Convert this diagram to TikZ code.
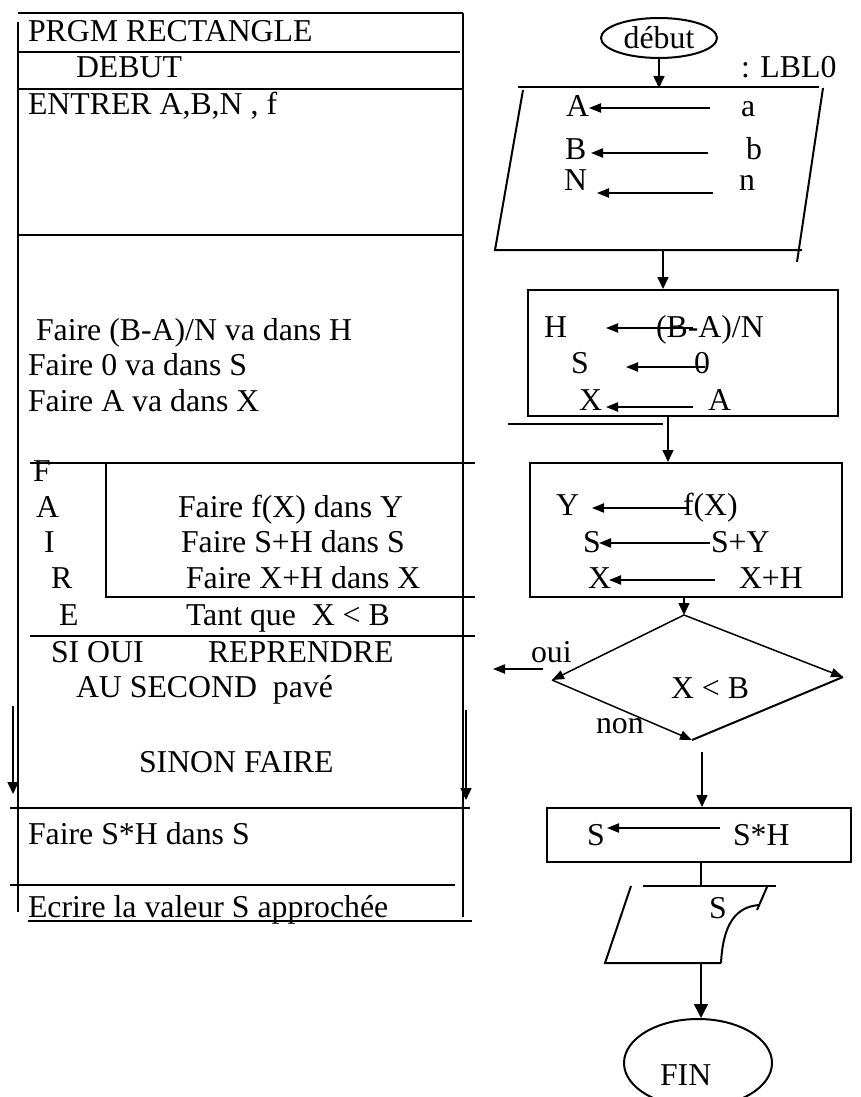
\documentclass[tikz,border=0pt]{standalone}
\usepackage{fontspec}
\setmainfont{Liberation Serif}
\usetikzlibrary{arrows.meta,shapes.geometric}

\tikzset{
  txt/.style={anchor=base west, inner sep=0pt},
  affect/.style={-{Triangle[length=6pt,width=4.6pt]}, line width=0.75pt},
  flow/.style={-{Triangle[length=6pt,width=5.5pt]}, line width=0.8pt},
  term/.style={draw, ellipse, inner sep=0pt, line width=1pt},
  instr/.style={draw, inner sep=0pt, line width=1pt},
}

\begin{document}
\begin{tikzpicture}[x=0.5pt, y=-0.5pt, line width=1pt, font=\fontsize{15.9}{18}\selectfont]
  \useasboundingbox (0,0) rectangle (861,1097);

  % structured program (left)
  \draw (18,13) -- (463,13);
  \draw (18,22) -- (18,912);
  \draw (463,13) -- (463,917);
  \draw (18,52) -- (460,52);
  \draw (18,89) -- (463,89);
  \draw (18,235) -- (463,235);
  \draw (30,463) -- (475,463);
  \draw (106,463) -- (106,597) -- (475,597);
  \draw (30,636) -- (475,636);
  \draw (10,808) -- (470,808);
  \draw (10,885) -- (455,885);
  \draw[line width=0.75pt] (28,921) -- (472,921);
  \draw[flow] (13,706) -- (13,794);
  \draw[flow] (466,710) -- (466,800);

  \node[txt] (prgm) at (27,42) {PRGM RECTANGLE};
  \node[txt] (debutL) at (75,78) {DEBUT};
  \node[txt] (entrer) at (27,115) {ENTRER A,B,N , f};
  \node[txt] (faireH) at (35,340) {Faire (B-A)/N va dans H};
  \node[txt] (faireS) at (27,375) {Faire 0 va dans S};
  \node[txt] (faireX) at (27,411) {Faire A va dans X};
  \node[txt] (lF) at (32,481) {F};
  \node[txt] (lA) at (35,517) {A};
  \node[txt] (lI) at (43,552) {I};
  \node[txt] (lR) at (50,588) {R};
  \node[txt] (lE) at (58,625) {E};
  \node[txt] (fY) at (177,517) {Faire f(X) dans Y};
  \node[txt] (fS) at (180,552) {Faire S+H dans S};
  \node[txt] (fX) at (185,588) {Faire X+H dans X};
  \node[txt] (tq) at (185,625) {Tant que\ \ X < B};
  \node[txt] (sioui) at (50,662) {SI OUI};
  \node[txt] (repr) at (207,662) {REPRENDRE};
  \node[txt] (second) at (75,697) {AU SECOND\ \ pavé};
  \node[txt] (sinon) at (138,772) {SINON FAIRE};
  \node[txt] (fSH) at (27,844) {Faire S*H dans S};
  \node[txt] (ecrire) at (27,917) {Ecrire la valeur S approchée};

  % flowchart (right)
  \node[term, minimum width=58pt, minimum height=20pt] (debut) at (659,38) {début};
  \node[txt] (lbl) at (740,78) {: LBL0};
  \coordinate (entree) at (659,88);
  \draw[flow] (debut) -- (entree);

  \draw (518,87) -- (819,87);
  \draw (523,90) -- (495,250) -- (802,250);
  \draw (823,88) -- (797,262);
  \node[txt] (pA) at (565,117) {A};
  \node[txt] (pa) at (740,117) {a};
  \node[txt] (pB) at (564,160) {B};
  \node[txt] (pb) at (745,160) {b};
  \node[txt] (pN) at (563,190) {N};
  \node[txt] (pn) at (738,190) {n};
  \draw[affect] (710,108) -- (589,108);
  \draw[affect] (708,153) -- (591,153);
  \draw[affect] (713,193) -- (597,193);

  \node[instr, minimum width=155pt, minimum height=63pt] (init) at (683,353) {};
  \coordinate (lecture) at (663,250);
  \draw[flow] (lecture) -- (lecture |- init.north);
  \node[txt] (iH) at (543,337) {H};
  \node[txt] (iHv) at (655,337) {(B-A)/N};
  \node[txt] (iS) at (570,373) {S};
  \node[txt] (iSv) at (693,373) {0};
  \node[txt] (iX) at (578,410) {X};
  \node[txt] (iXv) at (707,410) {A};
  \draw[affect] (693,328) -- (606,328);
  \draw[affect] (705,367) -- (626,367);
  \draw[affect] (693,407) -- (606,407);
  \draw (508,424) -- (663,424);

  \node[instr, minimum width=156pt, minimum height=67pt] (boucle) at (686,530) {};
  \draw[flow] (init.south -| 668,0) -- (boucle.north -| 668,0);
  \node[txt] (bY) at (555,515) {Y};
  \node[txt] (bYv) at (682,515) {f(X)};
  \node[txt] (bS) at (582,552) {S};
  \node[txt] (bSv) at (710,552) {S+Y};
  \node[txt] (bX) at (587,588) {X};
  \node[txt] (bXv) at (738,588) {X+H};
  \draw[affect] (687,508) -- (592,508);
  \draw[affect] (710,543) -- (599,543);
  \draw[affect] (715,580) -- (609,580);

  % test
  \coordinate (dtop) at (684,615);
  \coordinate (dright) at (843,677);
  \coordinate (dbottom) at (692,740);
  \coordinate (dleft) at (552,680);
  \draw[flow] (boucle.south -| dtop) -- (dtop);
  \draw[affect] (dtop) -- (dleft);
  \draw[affect] (dleft) -- (dbottom);
  \draw[affect] (dtop) -- (dright);
  \draw (dright) -- (dbottom);
  \node[txt] (test) at (670,698) {X < B};
  \node[txt] (oui) at (530,662) {oui};
  \node[txt] (non) at (595,733) {non};
  \coordinate (ouiA) at (543,669);
  \coordinate (ouiB) at (493,669);
  \draw[affect] (ouiA) -- (ouiB);

  \node[instr, minimum width=152pt, minimum height=27pt] (fin_calc) at (699,835) {};
  \coordinate (nonA) at (702,752);
  \draw[flow] (nonA) -- (nonA |- fin_calc.north);
  \node[txt] (cS) at (586,845) {S};
  \node[txt] (cSv) at (732,845) {S*H};
  \draw[affect] (720,828) -- (607,828);

  % output
  \coordinate (sortie) at (701,886);
  \draw (fin_calc.south -| sortie) -- (sortie);
  \draw (643,886) -- (776,886);
  \draw (631,886) -- (605,963) -- (721,963);
  \draw (721,963) .. controls (723,925) and (735,907) .. (759,905);
  \draw (757,910) -- (767,887);
  \node[txt] (oS) at (708,918) {S};

  \node[term, minimum width=74pt, minimum height=44pt] (fin) at (698,1063) {};
  \node[txt] (finlbl) at (659,1085) {FIN};
  \coordinate (sortieB) at (701,963);
  \draw[-{Triangle[length=7pt,width=7pt]}, line width=0.8pt] (sortieB) -- (sortieB |- fin.north);
\end{tikzpicture}
\end{document}
